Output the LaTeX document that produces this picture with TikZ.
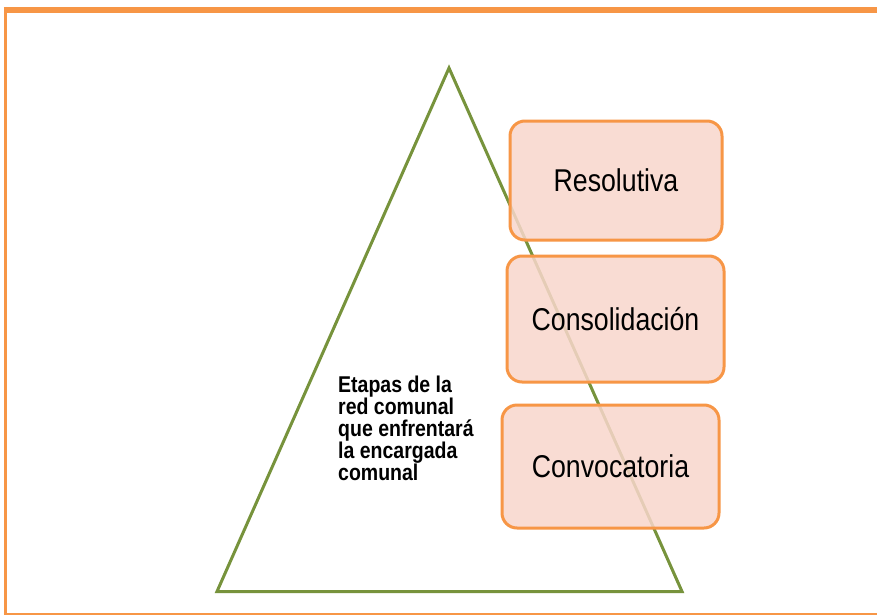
\documentclass[tikz,border=0pt]{standalone}
\usepackage{fontspec}
\setmainfont{Liberation Sans}
\definecolor{frameor}{HTML}{F79646}
\definecolor{boxfill}{HTML}{F9D7CC}
\definecolor{trigreen}{HTML}{77933C}
\begin{document}
\begin{tikzpicture}[x=1pt,y=-1pt,
  stagebox/.style={draw=frameor,line width=3pt,fill=boxfill,fill opacity=0.85,draw opacity=1,text opacity=1,
    rounded corners=15pt,inner sep=0pt},
  stagetext/.style={font=\fontsize{26.7}{30}\selectfont,text=black}]
\useasboundingbox (0,0) rectangle (877,615);
\fill[white] (0,0) rectangle (877,615);
% frame
\draw[frameor,line width=6pt] (3.75,10) -- (880,10);
\draw[frameor,line width=3.5pt] (5.5,7) -- (5.5,614);
\draw[frameor,line width=2pt] (3.75,613.5) -- (880,613.5);
% triangle
\coordinate (apex) at (449,68);
\coordinate (bl) at (217,591.5);
\coordinate (br) at (682,591.5);
\draw[trigreen,line width=3pt,line join=miter] (apex) -- (br) -- (bl) -- cycle;
% boxes
\node[stagebox,minimum width=212pt,minimum height=119pt] (res) at (616,180.5) {};
\node[stagebox,minimum width=217pt,minimum height=126pt] (con) at (615.5,319) {};
\node[stagebox,minimum width=217pt,minimum height=123pt] (cvt) at (610.5,466.5) {};
\node[stagetext] (rest) at (res.center) {\scalebox{1}[1.18]{Resolutiva}};
\node[stagetext] (cont) at (con.center) {\scalebox{1}[1.18]{Consolidación}};
\node[stagetext] (cvtt) at (cvt.center) {\scalebox{1}[1.18]{Convocatoria}};
% label
\node[anchor=base west,inner sep=0pt,align=left,font=\bfseries\fontsize{19.5}{18.8}\selectfont] (lab) at (338,392)
  {\scalebox{1}[1.17]{\begin{tabular}[t]{@{}l@{}}Etapas de la\\[-0.8pt]red comunal\\[-0.8pt]que enfrentará\\[-0.8pt]la encargada\\[-0.8pt]comunal\end{tabular}}};
\end{tikzpicture}
\end{document}
